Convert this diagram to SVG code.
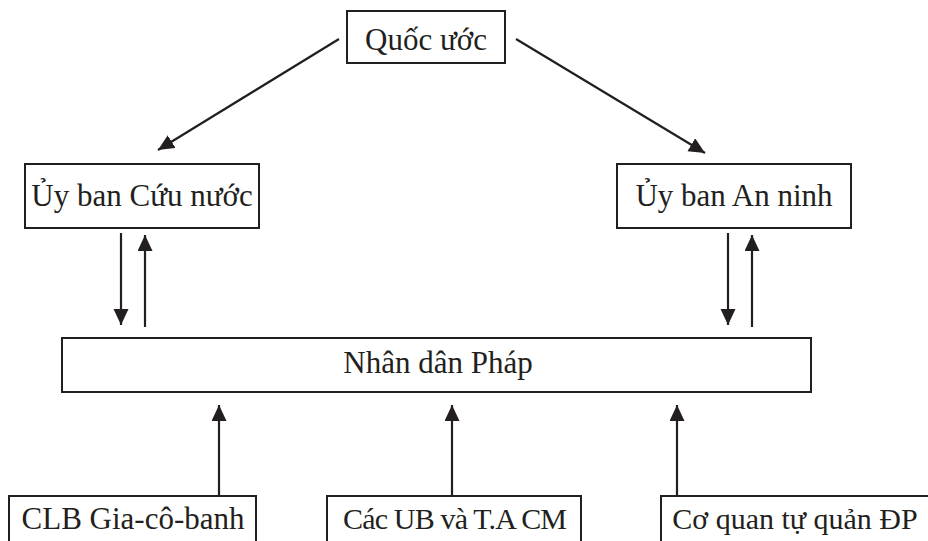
<svg xmlns="http://www.w3.org/2000/svg" width="928" height="541" viewBox="0 0 928 541">
<style>
.box{fill:#fff;stroke:#231f20;stroke-width:2}
text{font-family:'Liberation Serif',serif;font-size:31px;fill:#231f20;text-anchor:middle}
.sm{font-size:30px}
.ln{stroke:#231f20;stroke-width:2.2;fill:none;marker-end:url(#ah)}
</style>
<defs>
<marker id="ah" markerUnits="userSpaceOnUse" markerWidth="18" markerHeight="16" refX="16" refY="7.5" orient="auto">
<path d="M0,0 L16,7.5 L0,15 Z" fill="#231f20"/>
</marker>
</defs>
<rect width="928" height="541" fill="#fff"/>
<g id="connectors">
<line class="ln" x1="339" y1="39" x2="158" y2="150"/>
<line class="ln" x1="516" y1="39" x2="705" y2="153"/>
<line class="ln" x1="121" y1="233" x2="121" y2="325"/>
<line class="ln" x1="145" y1="327" x2="145" y2="235"/>
<line class="ln" x1="728" y1="233" x2="728" y2="325"/>
<line class="ln" x1="752" y1="327" x2="752" y2="235"/>
<line class="ln" x1="219" y1="496" x2="219" y2="405"/>
<line class="ln" x1="452" y1="496" x2="452" y2="405"/>
<line class="ln" x1="677" y1="496" x2="677" y2="405"/>
</g>
<g id="quoc-uoc">
<rect class="box" x="347" y="11" width="158" height="52"/>
<text x="426" y="50">Quốc ước</text>
</g>
<g id="uy-ban-cuu-nuoc">
<rect class="box" x="25" y="164" width="234" height="64"/>
<text x="142" y="206">Ủy ban Cứu nước</text>
</g>
<g id="uy-ban-an-ninh">
<rect class="box" x="617" y="164" width="234" height="64"/>
<text x="734" y="206">Ủy ban An ninh</text>
</g>
<g id="nhan-dan-phap">
<rect class="box" x="62" y="338" width="749" height="54"/>
<text x="438" y="373">Nhân dân Pháp</text>
</g>
<g id="clb-gia-co-banh">
<rect class="box" x="9" y="496" width="247" height="60"/>
<text x="133" y="529">CLB Gia-cô-banh</text>
</g>
<g id="cac-ub">
<rect class="box" x="327" y="496" width="254" height="60"/>
<text class="sm" x="455" y="529" textLength="224" lengthAdjust="spacing">Các UB và T.A CM</text>
</g>
<g id="co-quan">
<rect class="box" x="661" y="496" width="290" height="60"/>
<text class="sm" x="795" y="529">Cơ quan tự quản ĐP</text>
</g>
</svg>
